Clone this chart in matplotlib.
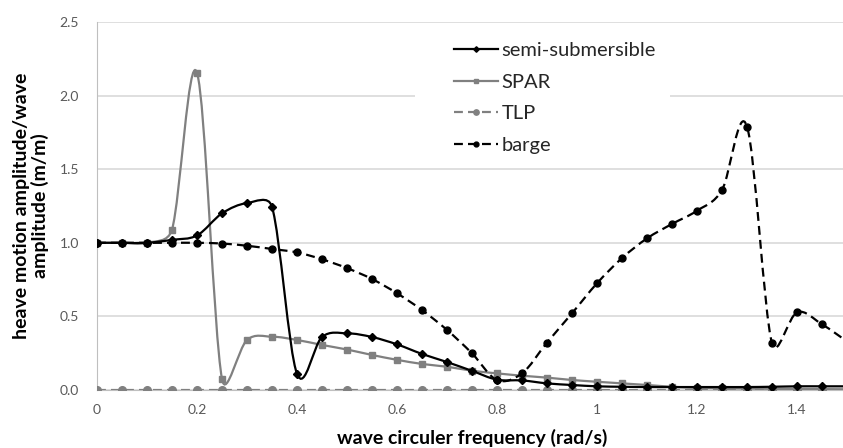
import matplotlib
matplotlib.use('Agg')
import matplotlib.pyplot as plt
import numpy as np
from matplotlib.path import Path
from matplotlib.patches import PathPatch, Rectangle
from matplotlib.lines import Line2D

# frequency steps (rad/s)
freq = [0.00, 0.05, 0.10, 0.15, 0.20, 0.25, 0.30, 0.35, 0.40, 0.45,
        0.50, 0.55, 0.60, 0.65, 0.70, 0.75, 0.80, 0.85, 0.90, 0.95,
        1.00, 1.05, 1.10, 1.15, 1.20, 1.25, 1.30, 1.35, 1.40, 1.45, 1.50]

semi = [1.00, 1.00, 1.00, 1.02, 1.05, 1.20, 1.27, 1.245, 0.11, 0.36,
        0.385, 0.36, 0.31, 0.245, 0.19, 0.13, 0.07, 0.065, 0.045, 0.034,
        0.025, 0.022, 0.02, 0.02, 0.02, 0.02, 0.02, 0.022, 0.025, 0.025, 0.025]

spar = [1.00, 1.00, 1.00, 1.09, 2.155, 0.075, 0.34, 0.362, 0.34, 0.306,
        0.275, 0.238, 0.205, 0.177, 0.158, 0.131, 0.113, 0.097, 0.084, 0.068,
        0.056, 0.045, 0.034, 0.022, 0.015, 0.012, 0.01, 0.008, 0.007, 0.006, 0.005]

tlp = [0.0] * len(freq)

barge = [1.00, 1.00, 1.00, 1.00, 1.00, 0.995, 0.98, 0.958, 0.935, 0.888,
         0.828, 0.754, 0.657, 0.543, 0.408, 0.249, 0.068, 0.113, 0.322, 0.521,
         0.725, 0.896, 1.03, 1.128, 1.218, 1.359, 1.79, 0.317, 0.528, 0.446, 0.33]

labels = ['semi-submersible', 'SPAR', 'TLP', 'barge']

BLACK = '#000000'
GREY = '#808080'

fig = plt.figure(figsize=(8.43, 4.48), dpi=100)
ax = fig.add_axes([97 / 843, 58 / 448, 1 - 97 / 843, 368 / 448])
ax.set_xlim(0, (843 - 97) / 500)
ax.set_ylim(0, 2.5)


def smooth_path(xs, ys):
    # excel-like smoothing: catmull-rom bezier, tangents limited in screen space
    pts = ax.transData.transform(np.column_stack([xs, ys]))
    n = len(pts)
    verts = [pts[0]]
    codes = [Path.MOVETO]
    for i in range(n - 1):
        p0 = pts[i - 1] if i > 0 else pts[i]
        p1, p2 = pts[i], pts[i + 1]
        p3 = pts[i + 2] if i + 2 < n else pts[i + 1]
        seg = np.hypot(*(p2 - p1))
        t1 = (p2 - p0) / 6
        t2 = (p3 - p1) / 6
        for t in (t1, t2):
            ln = np.hypot(*t)
            if ln > 0.5 * seg:
                t *= 0.5 * seg / ln
        verts += [p1 + t1, p2 - t2, p2]
        codes += [Path.CURVE4] * 3
    verts = ax.transData.inverted().transform(np.array(verts))
    return Path(verts, codes)


dash = (0, (4, 2.3))
series = [
    (semi, BLACK, '-', 'D', 4.0),
    (spar, GREY, '-', 's', 5.0),
    (tlp, GREY, dash, 'o', 5.5),
    (barge, BLACK, dash, 'o', 5.0),
]

# draw order: TLP, SPAR, barge, semi
z = 3
for k in [2, 1, 3, 0]:
    vals, col, ls, mk, ms = series[k]
    ax.add_patch(PathPatch(smooth_path(freq, vals), fill=False, edgecolor=col,
                           linewidth=1.6, linestyle=ls, zorder=z))
    ax.plot(freq, vals, linestyle='none', marker=mk, markersize=ms,
            color=col, zorder=z + 0.5)
    z += 1

handles = []
for vals, col, ls, mk, ms in series:
    handles.append(Line2D([], [], color=col, linewidth=1.6, linestyle=ls,
                          marker=mk, markersize=ms * 0.7))

ax.set_xticks([0, 0.2, 0.4, 0.6, 0.8, 1.0, 1.2, 1.4])
ax.set_xticklabels(['0', '0.2', '0.4', '0.6', '0.8', '1', '1.2', '1.4'])
ax.set_yticks([0, 0.5, 1.0, 1.5, 2.0, 2.5])
ax.set_yticklabels(['0.0', '0.5', '1.0', '1.5', '2.0', '2.5'])

ax.grid(axis='y', color='#d9d9d9', linewidth=1.2)
ax.set_axisbelow(True)
for s in ['top', 'right']:
    ax.spines[s].set_visible(False)
ax.spines['left'].set_color('#bfbfbf')
ax.spines['bottom'].set_color('#bfbfbf')
ax.tick_params(length=0, labelsize=10, labelcolor='#595959')
ax.tick_params(axis='y', pad=13)
ax.tick_params(axis='x', pad=10)
for t in ax.get_xticklabels() + ax.get_yticklabels():
    t.set_fontfamily('Lato')

# white block behind the legend (breaks the gridline like the original)
ax.add_patch(Rectangle((0.426, 0.625), 0.342, 0.35, transform=ax.transAxes,
                       facecolor='white', edgecolor='none', zorder=1.5))

leg = ax.legend(handles, labels, loc='upper left',
                bbox_to_anchor=(438 / 843, 1 - 26 / 448),
                bbox_transform=fig.transFigure, frameon=False,
                prop={'family': 'Lato', 'size': 14.5}, handlelength=2.2,
                handletextpad=0.15, labelspacing=0.72, borderpad=0.3)
for t in leg.get_texts():
    t.set_color('#262626')

fig.text(472 / 843, 1 - 438 / 448, 'wave circuler frequency (rad/s)',
         ha='center', va='center', fontsize=14, fontweight='bold',
         family='Lato')
fig.text(31 / 843, 1 - 206 / 448, 'heave motion amplitude/wave\namplitude (m/m)',
         ha='center', va='center', rotation=90, fontsize=14,
         fontweight='bold', family='Lato', multialignment='center',
         linespacing=1.1)

fig.savefig('out.png', dpi=100)
